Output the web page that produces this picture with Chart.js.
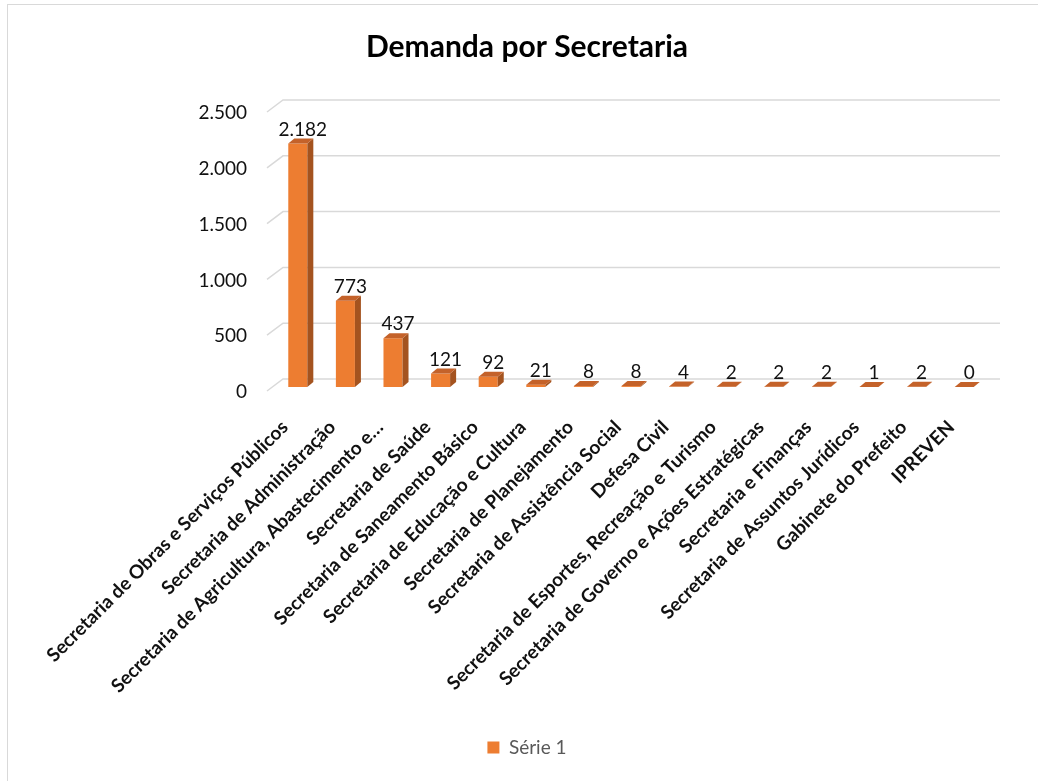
<!DOCTYPE html>
<html>
<head>
<meta charset="utf-8">
<script src="https://cdn.jsdelivr.net/npm/chart.js@4.4.1/dist/chart.umd.min.js"></script>
<style>
  html, body { margin: 0; padding: 0; background: #fff; overflow: hidden; }
  #wrap { position: relative; width: 1038px; height: 781px; }
  #frame { position: absolute; left: 7px; top: 4px; width: 1040px; height: 790px;
           border: 1px solid #d9d9d9; pointer-events: none; }
</style>
</head>
<body>
<div id="wrap">
  <canvas id="chart" width="1038" height="781"></canvas>
  <div id="frame"></div>
</div>
<script>
const secretarias = [
  'Secretaria de Obras e Serviços Públicos',
  'Secretaria de Administração',
  'Secretaria de Agricultura, Abastecimento e…',
  'Secretaria de Saúde',
  'Secretaria de Saneamento Básico',
  'Secretaria de Educação e Cultura',
  'Secretaria de Planejamento',
  'Secretaria de Assistência Social',
  'Defesa Civil',
  'Secretaria de Esportes, Recreação e Turismo',
  'Secretaria de Governo e Ações Estratégicas',
  'Secretaria e Finanças',
  'Secretaria de Assuntos Jurídicos',
  'Gabinete do Prefeito',
  'IPREVEN'
];
const demandas = [2182, 773, 437, 121, 92, 21, 8, 8, 4, 2, 2, 2, 1, 2, 0];
const yTicks = [0, 500, 1000, 1500, 2000, 2500];

const FONT = 'Lato';
const fmt = v => v.toLocaleString('pt-BR');

// fake 3d: side + top faces, back-wall gridlines, value labels
const depthX = 6, depthY = -5;

const wallGrid = {
  id: 'wallGrid',
  beforeDatasetsDraw(chart) {
    const { ctx, chartArea } = chart;
    const y = chart.scales.y;
    ctx.save();
    ctx.strokeStyle = '#d9d9d9';
    ctx.lineWidth = 1.5;
    yTicks.forEach(v => {
      const py = y.getPixelForValue(v);
      ctx.beginPath();
      ctx.moveTo(chartArea.left - 7, py + 4);
      ctx.lineTo(chartArea.left + 9, py - 8);
      ctx.lineTo(chartArea.right + 12, py - 8);
      ctx.stroke();
    });
    ctx.restore();
  }
};

const bars3d = {
  id: 'bars3d',
  afterDatasetsDraw(chart) {
    const { ctx } = chart;
    const meta = chart.getDatasetMeta(0);
    ctx.save();
    meta.data.forEach((bar, i) => {
      const l = bar.x - bar.width / 2, r = bar.x + bar.width / 2;
      const t = bar.y, b = bar.base;
      // side
      ctx.fillStyle = '#a4531f';
      ctx.beginPath();
      ctx.moveTo(r, t);
      ctx.lineTo(r + depthX, t + depthY);
      ctx.lineTo(r + depthX, b + depthY);
      ctx.lineTo(r, b);
      ctx.closePath();
      ctx.fill();
      // top
      ctx.fillStyle = '#c4622a';
      ctx.beginPath();
      ctx.moveTo(l, t);
      ctx.lineTo(l + depthX, t + depthY);
      ctx.lineTo(r + depthX, t + depthY);
      ctx.lineTo(r, t);
      ctx.closePath();
      ctx.fill();
      // value
      ctx.fillStyle = '#111';
      ctx.font = '19px ' + FONT;
      ctx.textAlign = 'center';
      ctx.textBaseline = 'middle';
      ctx.fillText(fmt(demandas[i]), bar.x + 5, t - 14);
    });
    ctx.restore();
  }
};

new Chart(document.getElementById('chart'), {
  type: 'bar',
  data: {
    labels: secretarias,
    datasets: [{
      label: 'Série 1',
      data: demandas,
      backgroundColor: '#ed7d31',
      borderWidth: 0,
      barPercentage: 0.8,
      categoryPercentage: 0.5
    }]
  },
  options: {
    responsive: false,
    devicePixelRatio: 1,
    animation: false,
    layout: { padding: { left: 16, right: 0, top: 0, bottom: 14 } },
    plugins: {
      title: {
        display: true,
        text: 'Demanda por Secretaria',
        color: '#000',
        font: { family: FONT, size: 30, weight: 'bold' },
        padding: { top: 29, bottom: 43 }
      },
      legend: {
        position: 'bottom',
        labels: {
          color: '#595959',
          font: { family: FONT, size: 19 },
          boxWidth: 12, boxHeight: 12, padding: 10
        }
      },
      tooltip: { enabled: false }
    },
    scales: {
      x: {
        grid: { display: false },
        border: { display: false },
        ticks: {
          autoSkip: false,
          minRotation: 45, maxRotation: 45,
          color: '#111',
          padding: 21,
          labelOffset: -13,
          font: { family: FONT, size: 19, weight: 'bold' }
        },
        afterFit(s) { s.height = 341; s.paddingLeft = 0; s.paddingRight = 0; }
      },
      y: {
        min: 0, max: 2500,
        grid: { display: false },
        border: { display: false },
        ticks: {
          stepSize: 500,
          color: '#111',
          padding: 19,
          labelOffset: 5,
          font: { family: FONT, size: 19 },
          callback: v => fmt(v)
        },
        afterFit(s) { s.width = 258; }
      },
      // empty right margin so title and legend centre like the original
      side: {
        type: 'linear',
        position: 'right',
        grid: { display: false },
        border: { display: false },
        ticks: { display: false },
        afterFit(s) { s.width = 50; }
      }
    }
  },
  plugins: [wallGrid, bars3d]
});
</script>
</body>
</html>
